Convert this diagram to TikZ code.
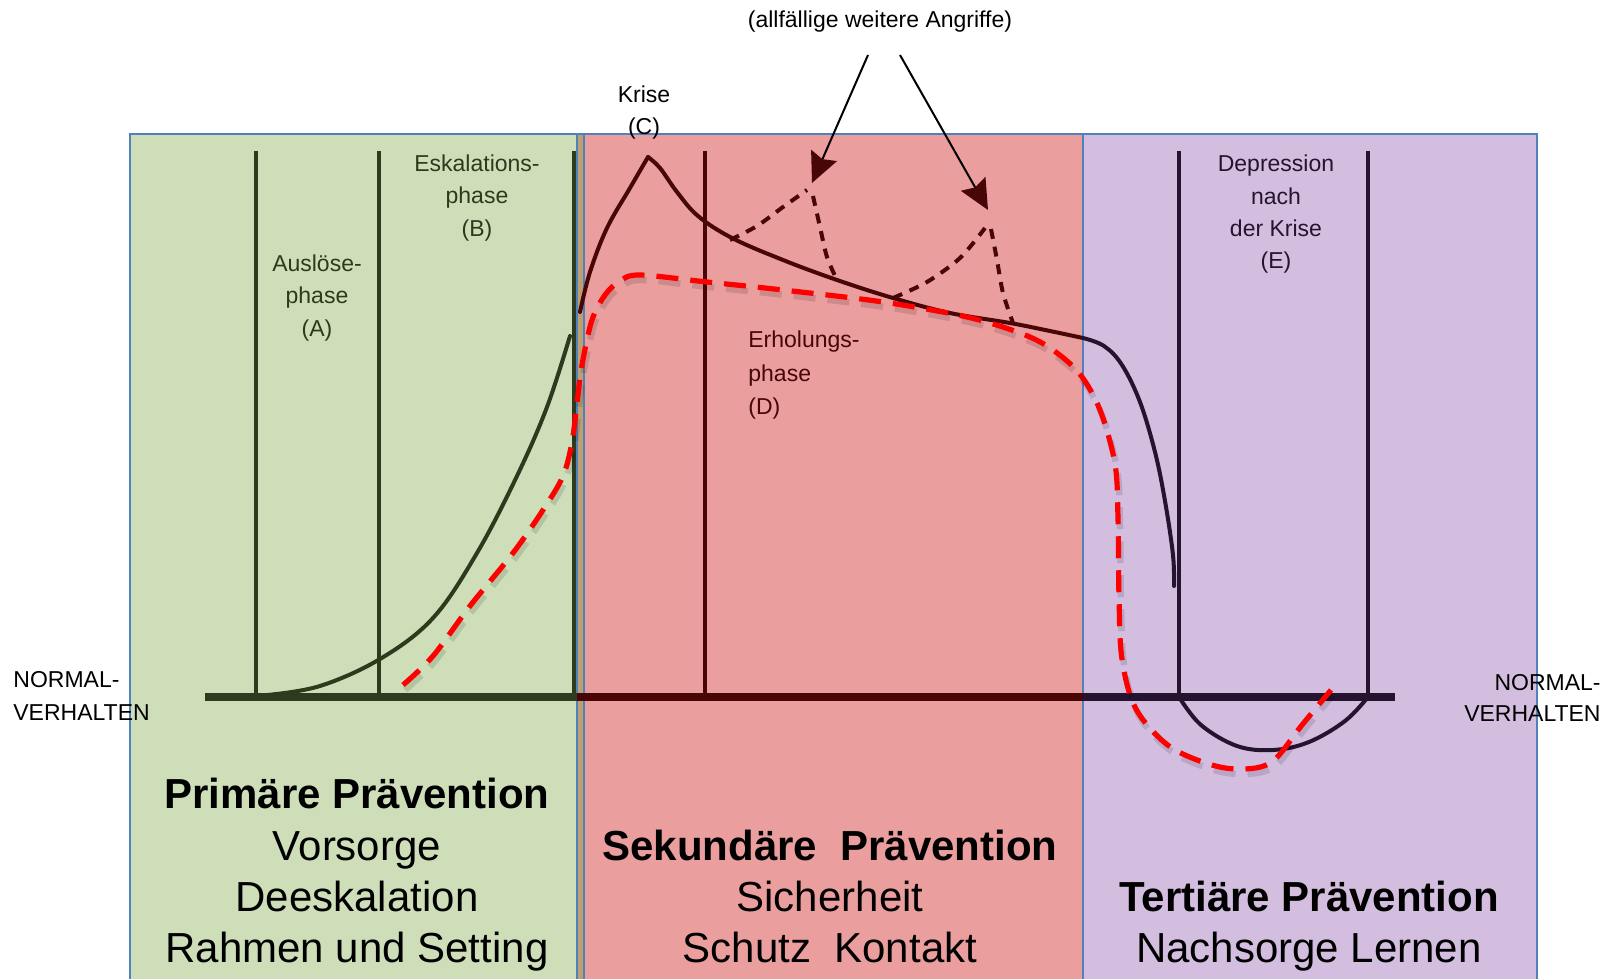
\documentclass[tikz,border=0pt]{standalone}
\usepackage{fontspec}
\setmainfont{Liberation Sans}
\usetikzlibrary{arrows.meta}
\definecolor{pgreen}{RGB}{205,222,185}
\definecolor{pred}{RGB}{234,158,158}
\definecolor{ppurple}{RGB}{211,190,224}
\definecolor{ptan}{RGB}{190,160,112}
\definecolor{pblue}{RGB}{79,129,189}
\definecolor{lgreen}{RGB}{45,58,30}
\definecolor{lred}{RGB}{72,6,6}
\definecolor{lpurple}{RGB}{37,20,48}
\begin{document}
\begin{tikzpicture}[x=0.5pt,y=-0.5pt,
  panel/.style={draw=pblue,line width=1pt},
  vline/.style={line width=2.2pt},
  axisline/.style={line width=3.6pt},
  curve/.style={line width=2pt,line cap=round,line join=round},
  attack/.style={line width=2pt,dash pattern=on 5pt off 4pt},
  crisis/.style={draw=red,line width=2.6pt,dash pattern=on 11pt off 6pt},
  crisisshadow/.style={draw=black,opacity=0.12,line width=3.2pt,dash pattern=on 11pt off 6pt},
  lbl/.style={font=\fontsize{11.5}{14}\selectfont,inner sep=0pt,anchor=base},
  big/.style={font=\fontsize{21}{25}\selectfont,inner sep=0pt,anchor=base},
  bigbold/.style={big,font=\fontsize{21}{25}\selectfont\bfseries},
  arr/.style={line width=1pt,-{Stealth[length=15pt,width=14pt,inset=2pt,color=lred]}}
]
\useasboundingbox (0,0) rectangle (1614,979);
\fill[white] (0,0) rectangle (1614,979);
% panels
\fill[pgreen] (130,134) rectangle (577,979);
\fill[ptan] (577,134) rectangle (584,979);
\fill[pred] (584,134) rectangle (1083,979);
\fill[ppurple] (1083,134) rectangle (1537,979);
\draw[panel] (130,979) -- (130,134) -- (577,134) -- (577,979);
\draw[panel] (577,134) -- (584,134);
\draw[panel] (584,979) -- (584,134) -- (1083,134) -- (1083,979);
\draw[panel] (1083,134) -- (1537,134) -- (1537,979);
% axis
\draw[axisline,lgreen] (205,697) -- (577,697);
\draw[axisline,lred] (577,697) -- (1083,697);
\draw[axisline,lpurple] (1083,697) -- (1395,697);
% vertical phase lines
\foreach \x in {256,379,574} \draw[vline,lgreen] (\x,151) -- (\x,697);
\draw[vline,lred] (705,151) -- (705,697);
\foreach \x in {1179,1368} \draw[vline,lpurple] (\x,151) -- (\x,697);
% curves
\draw[curve,lgreen] plot[smooth,tension=0.6] coordinates {(267,695) (320,686) (380,659) (433,618) (477,553) (517,476) (547,407) (570,336)};
\draw[curve,lred] plot[smooth,tension=0.6] coordinates {(580,312) (590,272) (607,228) (630,188) (648,157)};
\draw[curve,lred] plot[smooth,tension=0.6] coordinates {(648,157) (660,168) (677,192) (698,216) (732,238) (783,260) (837,280) (893,298) (950,313) (1010,323) (1050,331) (1083,338)};
\draw[curve,lpurple] plot[smooth,tension=0.6] coordinates {(1083,338) (1104,346) (1122,365) (1140,402) (1155,452) (1165,501) (1173,555) (1174,586)};
\draw[curve,lpurple] plot[smooth,tension=0.6] coordinates {(1179,697) (1201,725) (1237,746) (1273,750) (1309,742) (1345,721) (1368,697)};
% further attacks
\draw[attack,lred] plot[smooth] coordinates {(730,240) (757,226) (783,207) (807,190)};
\draw[attack,lred] plot[smooth] coordinates {(813,196) (820,227) (827,257) (837,280)};
\draw[attack,lred] plot[smooth] coordinates {(893,298) (927,282) (960,258) (985,228)};
\draw[attack,lred] plot[smooth] coordinates {(991,229) (997,260) (1003,293) (1013,323)};
% red dashed intervention path
\draw[crisisshadow,shift={(2,5)}] plot[smooth,tension=0.55] coordinates {(403,685) (433,656) (470,606) (513,553) (543,510) (563,476) (572,442) (577,403) (582,365) (592,320) (605,295) (620,281) (640,275) (707,282) (783,290) (883,302) (967,317) (1020,333) (1050,348) (1079,373) (1100,410) (1115,464) (1118,518) (1119,597) (1122,659) (1136,709) (1169,746) (1212,765) (1245,769) (1273,761) (1302,725) (1331,690)};
\draw[crisis] plot[smooth,tension=0.55] coordinates {(403,685) (433,656) (470,606) (513,553) (543,510) (563,476) (572,442) (577,403) (582,365) (592,320) (605,295) (620,281) (640,275) (707,282) (783,290) (883,302) (967,317) (1020,333) (1050,348) (1079,373) (1100,410) (1115,464) (1118,518) (1119,597) (1122,659) (1136,709) (1169,746) (1212,765) (1245,769) (1273,761) (1302,725) (1331,690)};
% labels
\node[lbl] (attacks) at (880,28) {(allfällige weitere Angriffe)};
\coordinate (a1s) at (868,55);
\coordinate (a1e) at (812,183);
\coordinate (a2s) at (900,55);
\coordinate (a2e) at (988,210);
\draw[arr] (a1s) -- (a1e);
\draw[arr] (a2s) -- (a2e);
\node[lbl] (krise1) at (644,103) {Krise};
\node[lbl] (krise2) at (644,135) {(C)};
\node[lbl,text=lgreen] (esk1) at (477,172) {Eskalations-};
\node[lbl,text=lgreen] (esk2) at (477,204) {phase};
\node[lbl,text=lgreen] (esk3) at (477,237) {(B)};
\node[lbl,text=lgreen] (aus1) at (317,271) {Auslöse-};
\node[lbl,text=lgreen] (aus2) at (317,304) {phase};
\node[lbl,text=lgreen] (aus3) at (317,336) {(A)};
\node[lbl,text=lred,anchor=base west] (erh1) at (748,348) {Erholungs-};
\node[lbl,text=lred,anchor=base west] (erh2) at (748,381) {phase};
\node[lbl,text=lred,anchor=base west] (erh3) at (748,414) {(D)};
\node[lbl,text=lpurple] (dep1) at (1276,172) {Depression};
\node[lbl,text=lpurple] (dep2) at (1276,205) {nach};
\node[lbl,text=lpurple] (dep3) at (1276,237) {der Krise};
\node[lbl,text=lpurple] (dep4) at (1276,269) {(E)};
\node[lbl,anchor=base west] (nl1) at (13,687) {NORMAL-};
\node[lbl,anchor=base west] (nl2) at (13,720) {VERHALTEN};
\node[lbl,anchor=base east] (nr1) at (1601,690) {NORMAL-};
\node[lbl,anchor=base east] (nr2) at (1601,721) {VERHALTEN};
% bottom texts
\node[bigbold] (p1) at (357,808) {Primäre Prävention};
\node[big] (p2) at (357,860) {Vorsorge};
\node[big] (p3) at (357,911) {Deeskalation};
\node[big] (p4) at (357,962) {Rahmen und Setting};
\node[bigbold] (s1) at (830,860) {Sekundäre\ \ Prävention};
\node[big] (s2) at (830,911) {Sicherheit};
\node[big] (s3) at (830,962) {Schutz\ \ Kontakt};
\node[bigbold] (t1) at (1309,911) {Tertiäre Prävention};
\node[big] (t2) at (1309,962) {Nachsorge Lernen};
\end{tikzpicture}
\end{document}
